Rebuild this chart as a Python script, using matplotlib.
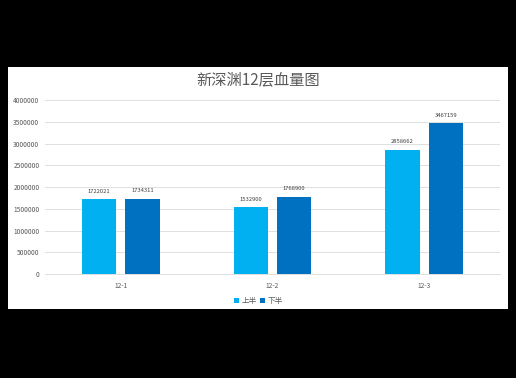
import numpy as np
import matplotlib
matplotlib.use('Agg')
import matplotlib.pyplot as plt
from matplotlib.patches import Rectangle

plt.rcParams['font.family'] = ['Noto Sans CJK SC', 'DejaVu Sans']

# data
categories = ['12-1', '12-2', '12-3']
first_half = [1722021, 1532900, 2858662]
second_half = [1734311, 1768900, 3467159]
series_names = ['上半', '下半']
y_ticks = [0, 500000, 1000000, 1500000, 2000000, 2500000, 3000000, 3500000, 4000000]

W, H = 516, 378
fig = plt.figure(figsize=(W / 100, H / 100), dpi=100, facecolor='black')

# white chart panel (behind the axes)
fig.patches.append(Rectangle((8 / W, 1 - 309 / H), 500 / W, 242 / H,
                             transform=fig.transFigure, facecolor='white',
                             edgecolor='none', zorder=-10))

ax = fig.add_axes([45 / W, 1 - 274 / H, 455 / W, 174 / H])
ax.set_facecolor('white')

x = np.arange(len(categories))
bw = 0.225
gap = 0.06
light, dark = '#00B0F0', '#0070C0'
b1 = ax.bar(x - (bw + gap) / 2, first_half, bw, color=light, label=series_names[0], zorder=3)
b2 = ax.bar(x + (bw + gap) / 2, second_half, bw, color=dark, label=series_names[1], zorder=3)

for bars in (b1, b2):
    ax.bar_label(bars, fmt='%d', padding=4, fontsize=4.2, color='#404040')

ax.set_xlim(-0.5, len(categories) - 0.5)
ax.set_ylim(0, 4000000)
ax.set_yticks(y_ticks)
ax.set_yticklabels([str(v) for v in y_ticks])
ax.set_xticks(x)
ax.set_xticklabels(categories)
ax.tick_params(axis='both', length=0, labelsize=4.8, labelcolor='#595959')
ax.tick_params(axis='x', pad=6)
ax.tick_params(axis='y', pad=4)
ax.grid(axis='y', color='#D9D9D9', linewidth=0.6, zorder=0)
for s in ('top', 'right', 'left'):
    ax.spines[s].set_visible(False)
ax.spines['bottom'].set_color('#D9D9D9')
ax.spines['bottom'].set_linewidth(0.6)

fig.text(258 / W, 1 - 80 / H, '新深渊12层血量图', ha='center', va='center',
         fontsize=11, color='#595959')

fig.legend(handles=[b1, b2], labels=series_names, loc='center',
           bbox_to_anchor=(258 / W, 1 - 301 / H), ncol=2, frameon=False,
           fontsize=5.5, handlelength=0.7, handleheight=0.7, handletextpad=0.3,
           columnspacing=0.4, labelcolor='#595959')

fig.savefig('out.png', dpi=100, facecolor='black')
